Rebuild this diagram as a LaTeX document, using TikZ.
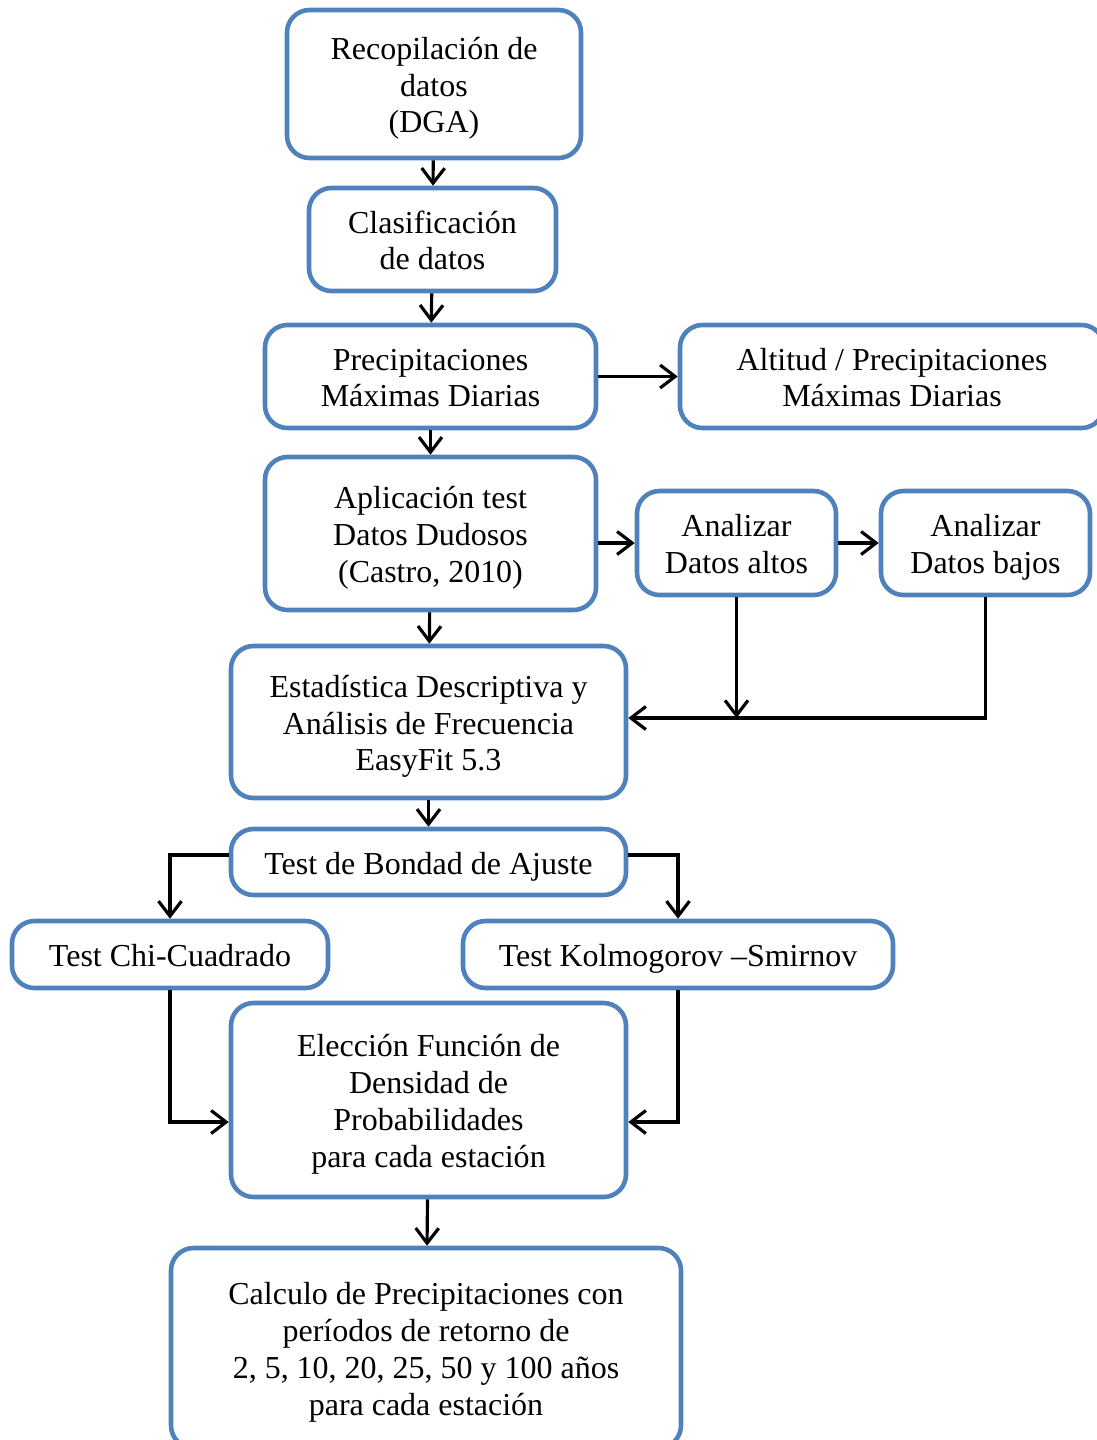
\documentclass[tikz,border=0pt]{standalone}
\usepackage{fontspec}
\setmainfont{Liberation Serif}
\usetikzlibrary{arrows.meta}
\definecolor{boxblue}{RGB}{79,129,189}
\newcommand\tope{\rule{0pt}{20pt}}
\tikzset{
 caja/.style={draw=boxblue,line width=2.6pt,rounded corners=0.45cm,fill=white,align=center,
  inner sep=0pt,font=\fontsize{18.2}{21}\selectfont},
 flecha/.style={line width=1.8pt,-{Straight Barb[length=3mm,width=4.6mm,line width=1.8pt]}}
}
\begin{document}
\begin{tikzpicture}
\useasboundingbox (0,0) rectangle (21.94,-28.8);
\begin{scope}
\clip (0,0) rectangle (21.94,-28.8);
%main column
\node[caja,minimum width=5.88cm,minimum height=2.96cm] (rec) at (8.68,-1.68) {\tope Recopilación de\\datos\\(DGA)\strut};
\node[caja,minimum width=4.94cm,minimum height=2.06cm] (clas) at (8.65,-4.79) {\tope Clasificación\\de datos\strut};
\node[caja,minimum width=6.62cm,minimum height=2.06cm] (prec) at (8.61,-7.53) {\tope Precipitaciones\\Máximas Diarias\strut};
\node[caja,minimum width=6.62cm,minimum height=3.06cm] (apl) at (8.61,-10.67) {\tope Aplicación test\\Datos Dudosos\\(Castro, 2010)\strut};
\node[caja,minimum width=7.9cm,minimum height=3.04cm] (est) at (8.57,-14.44) {\tope Estadística Descriptiva y\\Análisis de Frecuencia\\EasyFit 5.3\strut};
\node[caja,minimum width=7.9cm,minimum height=1.32cm] (bond) at (8.57,-17.24) {\tope Test de Bondad de Ajuste\strut};
\node[caja,minimum width=7.9cm,minimum height=3.88cm] (elec) at (8.57,-22.0) {\tope Elección Función de\\Densidad de\\Probabilidades\\para cada estación\strut};
\node[caja,minimum width=10.2cm,minimum height=4.0cm] (calc) at (8.52,-26.96) {\tope Calculo de Precipitaciones con\\períodos de retorno de\\2, 5, 10, 20, 25, 50 y 100 años\\para cada estación\strut};
%side boxes
\node[caja,minimum width=8.48cm,minimum height=2.06cm] (alt) at (17.84,-7.53) {\tope Altitud / Precipitaciones\\Máximas Diarias\strut};
\node[caja,minimum width=3.98cm,minimum height=2.08cm] (altos) at (14.73,-10.86) {\tope Analizar\\Datos altos\strut};
\node[caja,minimum width=4.18cm,minimum height=2.08cm] (bajos) at (19.71,-10.86) {\tope Analizar\\Datos bajos\strut};
\node[caja,minimum width=6.32cm,minimum height=1.34cm] (chi) at (3.4,-19.09) {\tope Test Chi-Cuadrado\strut};
\node[caja,minimum width=8.6cm,minimum height=1.34cm] (kol) at (13.56,-19.09) {\tope Test Kolmogorov –Smirnov\strut};
\end{scope}
%arrows down the column
\draw[flecha] (rec) -- (clas);
\draw[flecha] (clas) -- (prec);
\draw[flecha] (prec) -- (apl);
\draw[flecha] (apl) -- (est);
\draw[flecha] (est) -- (bond);
\draw[flecha] (elec) -- (calc);
%arrows to the right
\draw[flecha] (prec) -- (alt);
\draw[flecha] (apl.east |- altos) -- (altos);
\draw[flecha] (altos) -- (bajos);
%back to the statistics box
\coordinate (entrada) at ([yshift=0.08cm]est.east);
\coordinate (junta) at (altos.south |- entrada);
\draw[flecha] (altos) -- (junta);
\draw[flecha] (bajos.south) |- (entrada);
%goodness of fit tests
\coordinate (bondO) at ([yshift=0.14cm]bond.west);
\coordinate (bondE) at ([yshift=0.14cm]bond.east);
\coordinate (elecO) at ([yshift=-0.44cm]elec.west);
\coordinate (elecE) at ([yshift=-0.44cm]elec.east);
\draw[flecha] (bondO) -| (chi.north);
\draw[flecha] (bondE) -| (kol.north);
\draw[flecha] (chi.south) |- (elecO);
\draw[flecha] (kol.south) |- (elecE);
\end{tikzpicture}
\end{document}
